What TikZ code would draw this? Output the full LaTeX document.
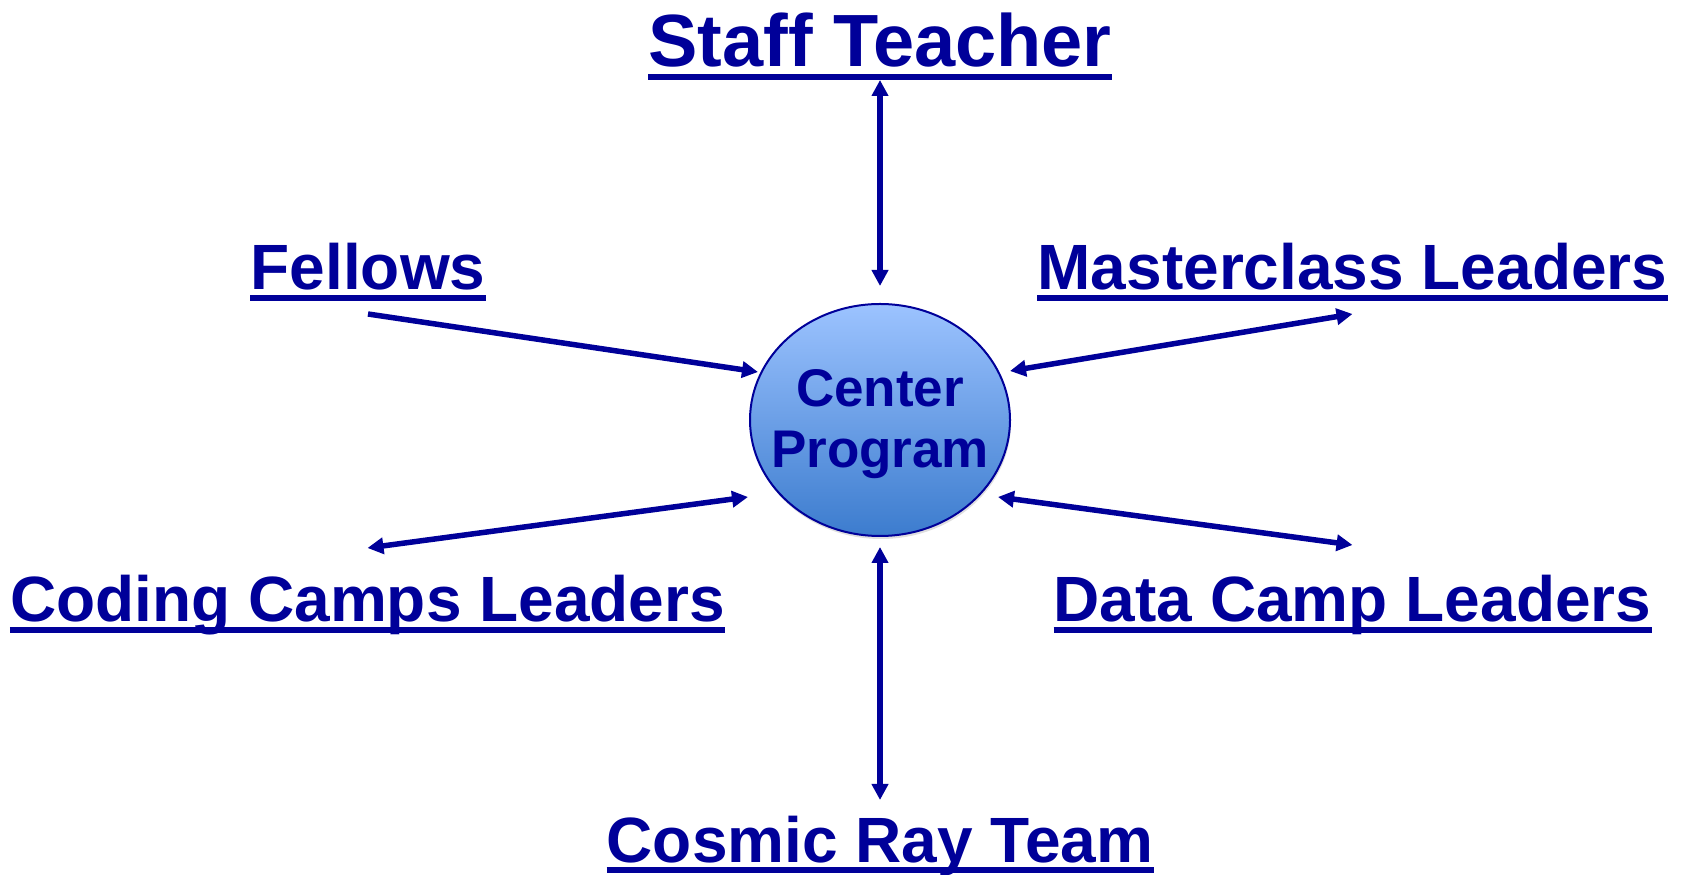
\documentclass[tikz,border=0pt]{standalone}
\usepackage{fontspec}
\setmainfont{Liberation Sans}
\usetikzlibrary{arrows.meta,shapes.geometric,shadows}

\definecolor{navy}{RGB}{0,0,153}
\definecolor{cptop}{RGB}{156,195,255}
\definecolor{cpbot}{RGB}{60,124,206}

\begin{document}
\begin{tikzpicture}[x=1pt,y=1pt,
    >={Triangle[length=16pt,width=16pt]},
    lbl/.style={text=navy,inner sep=0pt,anchor=base,font=\bfseries\fontsize{64}{64}\selectfont},
    uline/.style={navy,line width=6.5pt},
    link/.style={navy,line width=5.5pt}]

  \useasboundingbox (0,0) rectangle (1681,875);

  % center program
  \node[ellipse,draw=navy,line width=2pt,top color=cptop,bottom color=cpbot,
        minimum width=260pt,minimum height=232pt,inner sep=0pt,
        drop shadow={shadow xshift=1pt,shadow yshift=-3pt,opacity=0.25}] (cp) at (880,455) {};
  \node[text=navy,align=center,inner sep=0pt,font=\bfseries\fontsize{53}{61}\selectfont] (cptext) at (880,451) {Center\\Program};

  % groups round it
  \node[lbl,font=\bfseries\fontsize{74}{74}\selectfont] (staff) at (880,808.5) {Staff Teacher};
  \node[lbl] (fellows) at (368,585) {Fellows};
  \node[lbl] (master) at (1352.5,585) {Masterclass Leaders};
  \node[lbl] (coding) at (367.5,253) {Coding Camps Leaders};
  \node[lbl] (data) at (1352.5,253) {Data Camp Leaders};
  \node[lbl] (cosmic) at (880,12) {Cosmic Ray Team};

  % underlines
  \foreach \n/\d in {staff/10.5,fellows/8,master/8,coding/8,data/8,cosmic/7}
  {
       \draw[uline] ([yshift=-\d pt]\n.base west) -- ([yshift=-\d pt]\n.base east);
  }

  % links
  \draw[link,<->] ([yshift=-13.5pt]staff.base) -- ([yshift=17pt]cp.north);
  \draw[link,->] ([yshift=-24pt]fellows.base) -- ([shift={(-122,48)}]cp.center);
  \draw[link,<->] ([shift={(130,49)}]cp.center) -- ([yshift=-24pt]master.base);
  \draw[link,<->] ([yshift=74pt]coding.base) -- ([shift={(-132,-77)}]cp.center);
  \draw[link,<->] ([shift={(118,-77)}]cp.center) -- ([yshift=77pt]data.base);
  \draw[link,<->] ([yshift=-10pt]cp.south) -- ([yshift=63pt]cosmic.base);

\end{tikzpicture}
\end{document}
